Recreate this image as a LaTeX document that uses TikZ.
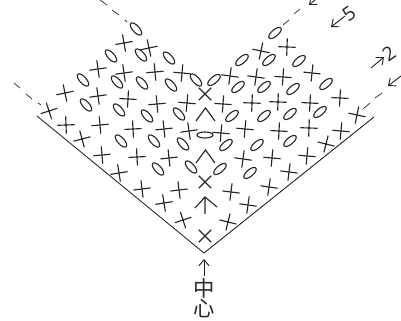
\documentclass[tikz,border=0pt]{standalone}
\usepackage{fontspec}
\newfontfamily\cjk{Noto Sans CJK SC}[Scale=1]
\setmainfont{Open Sans}
\usetikzlibrary{arrows.meta, positioning, shapes.geometric, calc}
\tikzset{
  stitch/.style={line width=0.85pt, black!85},
  edgeline/.style={line width=0.65pt, black!85},
  guideline/.style={line width=0.55pt, black!80},
  oval/.style={draw, ellipse, line width=0.85pt, black!85, inner sep=0pt,
               minimum width=11.5pt, minimum height=5pt},
  rowarrow/.style={line width=0.7pt, black!85, -{Straight Barb[length=4.5pt,width=7.5pt]}},
  rowlabel/.style={font=\fontsize{14.5}{14.5}\selectfont, black!85, inner sep=0pt},
  hanzi/.style={font=\cjk\fontsize{16}{16}\selectfont, black!85, inner sep=0pt},
}
\newcommand{\plusmark}[3]{%
  \draw[stitch, rotate around={#3:(#1,#2)}] (#1-8.7,#2) -- (#1+8.7,#2) (#1,#2-8.7) -- (#1,#2+8.7);}
\newcommand{\caretmark}[2]{%
  \draw[stitch] (#1-9.5,#2+13) -- (#1,#2) -- (#1+9.5,#2+13);}
\begin{document}
\begin{tikzpicture}[x=0.75pt, y=-0.75pt]
  \useasboundingbox (0,0) rectangle (401,321);
  \clip (0,0) rectangle (401,321);

  % frame
  \coordinate (apex) at (204,253);
  \coordinate (leftend) at (37,116);
  \coordinate (rightend) at (374,117);
  \draw[edgeline] (leftend) -- (apex) -- (rightend);

  % dash-dot guides
  \draw[guideline] (14,83) -- (20,88) (26,94) -- (32,99) (38,103) -- (41,105);
  \draw[guideline] (100,0) -- (107,5) (112,10) -- (119,15) (125,20) -- (127,22);
  \draw[guideline] (283,25) -- (289,20) (294,14) -- (300,9);
  \draw[guideline] (363,109) -- (370,103) (375,98) -- (382,93);

  % plus stitches, left half
  \foreach \px/\py/\pa in {124/43/10, 149/48/12, 98/69/8, 124/73/8, 155/72/5, 182/73/-5,
      65/93/12, 98/96/8, 128/99/-3, 157/104/5, 187/103/-5, 66/125/2, 100/125/5, 133/129/3,
      164/129/6, 189/131/8, 82/139/15, 102/155/5, 137/157/3, 169/158/6, 119/173/9,
      142/189/7, 179/190/7, 164/203/9, 183/220/18, 49/111/18}
    {\plusmark{\px}{\py}{\pa}}
  % plus stitches, right half
  \foreach \px/\py/\pa in {261/51/-12, 287/47/-2, 230/76/-8, 256/77/-8, 283/77/-4, 312/73/-6,
      223/104/-4, 252/103/-2, 278/102/-2, 310/103/-3, 340/98/-3, 357/115/-12, 221/133/-5, 245/129/-5,
      279/131/-3, 309/128/-2, 341/131/-5, 326/144/-14, 243/159/-8, 272/158/-5, 307/156/-5, 231/192/-7,
      269/187/-8, 289/172/-7, 248/205/-8, 228/222/-14}
    {\plusmark{\px}{\py}{\pa}}
  % crossed stitches and carets on the middle line
  \foreach \py in {94,182,236} {\plusmark{205}{\py}{45}}
  \caretmark{205.5}{108}
  \caretmark{205.5}{150}
  \draw[stitch] (195,208) -- (205,197) -- (217,207) (205,197) -- (205,214);

  % ovals leaning left
  \foreach \px/\py in {136/29, 111/56, 141/55, 169/58, 83/80, 117/82, 142/83, 171/85, 196/80,
      86/105, 119/110, 147/116, 179/114, 121/141, 154/141, 183/144, 158/169, 191/167}
    {\node[oval, rotate=-48] at (\px,\py) {};}
  % ovals leaning right
  \foreach \px/\py in {275/33, 242/60, 269/60, 299/61, 214/80, 238/87, 264/87, 293/89, 326/84,
      232/116, 264/116, 290/114, 320/112, 226/145, 257/145, 290/141, 220/169, 250/173}
    {\node[oval, rotate=40] at (\px,\py) {};}
  \node[oval, minimum width=12pt, minimum height=4.5pt] (midoval) at (205,135) {};

  % row marks
  \coordinate (tailA) at (315,0);   \coordinate (headA) at (309,5);
  \coordinate (tailB) at (345,16);  \coordinate (headB) at (331,27);
  \coordinate (tailC) at (371,68);  \coordinate (headC) at (384,57);
  \coordinate (tailD) at (401,76);  \coordinate (headD) at (388,86);
  \draw[rowarrow] (tailA) -- (headA);
  \draw[rowarrow] (tailB) -- (headB);
  \draw[rowarrow] (tailC) -- (headC);
  \draw[rowarrow] (tailD) -- (headD);
  \node[rowlabel, rotate=35] (five) at (349,14) {5};
  \node[rowlabel, rotate=35] (two) at (389,54) {2};

  % centre mark
  \node[hanzi] (zhong) at (204,288.5) {中};
  \node[hanzi, below=0pt of zhong] (xin) {心};
  \coordinate (arrowtop) at (204,259);
  \draw[rowarrow] ($(zhong.north)+(0,-2)$) -- (arrowtop);
\end{tikzpicture}
\end{document}
